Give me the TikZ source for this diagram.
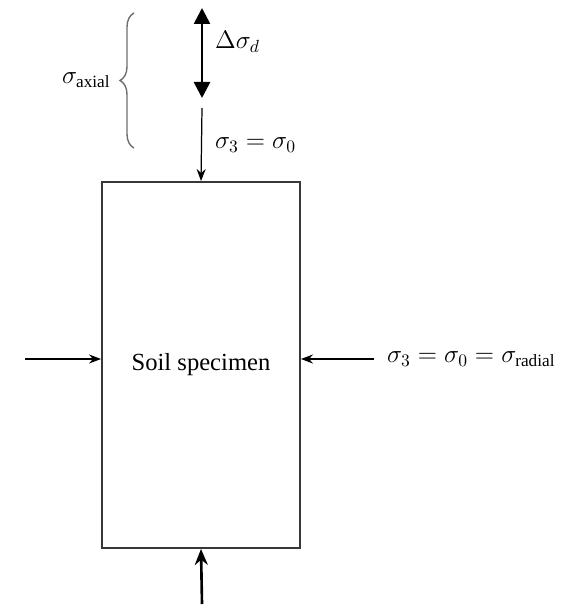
\documentclass[tikz,border=0pt]{standalone}
\usepackage{fontspec}
\setmainfont{Liberation Serif}
\usetikzlibrary{positioning,arrows.meta,decorations.pathreplacing}
\definecolor{boxgray}{RGB}{55,55,55}
\definecolor{bracegray}{RGB}{110,110,110}
\tikzset{
  specbox/.style={draw=boxgray, line width=1.1pt, minimum width=3.96cm, minimum height=7.32cm, align=center, font=\fontsize{14}{16}\selectfont},
  thinarrow/.style={-{Stealth[length=2.4mm,width=1.8mm]}, line width=0.7pt},
  thickarrow/.style={-{Stealth[length=3.2mm,width=2.6mm]}, line width=1.5pt},
  loadarrow/.style={{Triangle[length=3.2mm,width=3.2mm]}-{Triangle[length=3.2mm,width=3.2mm]}, line width=1.5pt},
  lbl/.style={font=\fontsize{14}{16}\selectfont, inner sep=1pt, text=black}
}

\begin{document}
\begin{tikzpicture}[x=0.02cm, y=-0.02cm]
\useasboundingbox (0,0) rectangle (568,614);
% specimen
\node[specbox] (specimen) at (201,365) {Soil specimen};
% axial loading
\coordinate (dtop) at (202,8);
\coordinate (dbot) at (202,98);
\coordinate (topin) at (202,108);
\draw[loadarrow] (dbot) -- (dtop);
\draw[thinarrow] (topin) -- (specimen.north);
\node[lbl, anchor=west] (dlabel) at (213,42) {$\Delta\sigma_d$};
\node[lbl, anchor=west] (toplabel) at (213,145) {$\sigma_3=\sigma_0$};
\draw[bracegray, line width=0.8pt, decorate, decoration={brace, amplitude=0.28cm}] (134,148) -- (134,13)
  node[midway, left=0.42cm, lbl] (axlabel) {$\sigma_{\mathrm{axial}}$};
% radial confinement
\coordinate (leftin) at (25,359);
\coordinate (rightin) at (374,359);
\draw[thinarrow] (leftin) -- (leftin -| specimen.west);
\draw[thinarrow] (rightin) -- (rightin -| specimen.east);
\node[lbl, anchor=west] (radlabel) at (385,359) {$\sigma_3=\sigma_0=\sigma_{\mathrm{radial}}$};
% bottom reaction
\coordinate (botin) at (202,604);
\draw[thickarrow] (botin) -- (specimen.south);
\end{tikzpicture}
\end{document}
